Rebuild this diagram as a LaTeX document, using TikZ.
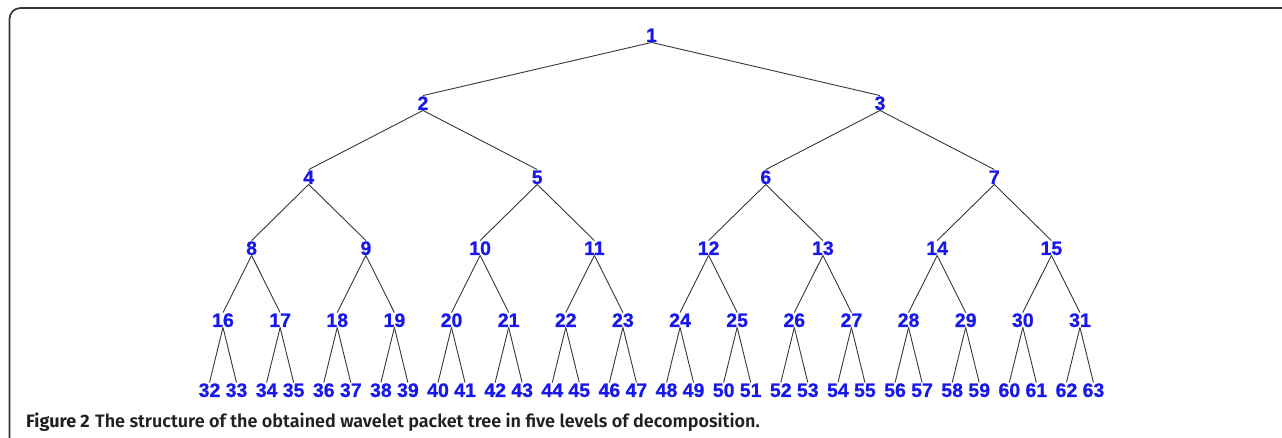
\documentclass[tikz,border=0pt]{standalone}
\usepackage{fontspec}
\newfontfamily\labelfont{Liberation Sans}[BoldFeatures={FakeBold=0.8}]
\newfontfamily\capfont{Fira Sans}
\newfontfamily\capsemi{Fira Sans SemiBold}
\definecolor{nodeblue}{RGB}{24,24,235}
\definecolor{edgegrey}{RGB}{55,55,55}
\definecolor{capgrey}{RGB}{35,31,32}
\tikzset{
  tnode/.style={font=\labelfont\bfseries\fontsize{19.5}{20}\selectfont, text=nodeblue,
    inner sep=0pt, outer sep=0.5pt, text height=13.9pt, text depth=0pt},
  edge/.style={draw=edgegrey, line width=0.9pt},
  frame/.style={draw=black!80, line width=1.7pt}
}
\begin{document}
\begin{tikzpicture}[x=1pt,y=-1pt]
\useasboundingbox (0,0) rectangle (1282,438);
% outer frame: left and top edges with a rounded corner
\draw[frame] (9.5,440) -- (9.5,19) arc[start angle=180,end angle=270,radius=11] -- (1284,8);

% root and upper levels
\node[tnode] (n1) at (651.5,35) {1};
\node[tnode] (n2) at (423.0,103) {2};
\node[tnode] (n3) at (880.0,103) {3};
\node[tnode] (n4) at (308.7,177) {4};
\node[tnode] (n5) at (537.2,177) {5};
\node[tnode] (n6) at (765.8,177) {6};
\node[tnode] (n7) at (994.3,177) {7};
\node[tnode] (n8) at (251.6,248) {8};
\node[tnode] (n9) at (365.9,248) {9};
\node[tnode] (n10) at (480.1,248) {10};
\node[tnode] (n11) at (594.4,248) {11};
\node[tnode] (n12) at (708.6,248) {12};
\node[tnode] (n13) at (822.9,248) {13};
\node[tnode] (n14) at (937.2,248) {14};
\node[tnode] (n15) at (1051.4,248) {15};

% level four and the leaves below each node
\foreach \i in {16,...,31} {
  \pgfmathsetmacro\xx{223+57.13*(\i-16)}
  \pgfmathtruncatemacro\lt{2*\i}
  \pgfmathtruncatemacro\rt{2*\i+1}
  \node[tnode] (n\i) at (\xx,320) {\i};
  \node[tnode] (n\lt) at (\xx-13.5,390) {\lt};
  \node[tnode] (n\rt) at (\xx+13.5,390) {\rt};
}

% connectors from each parent to its children
\foreach \c in {2,...,63} {
  \pgfmathtruncatemacro\p{\c/2}
  \draw[edge] (n\p.south) -- (n\c.north);
}

% caption
\node[anchor=base west, inner sep=0pt, text=capgrey, font=\fontsize{18}{20}\selectfont] (cap) at (26,427)
  {{\capfont\bfseries Figure 2} {\capsemi The structure of the obtained wavelet packet tree in five levels of decomposition.}};
\end{tikzpicture}
\end{document}
